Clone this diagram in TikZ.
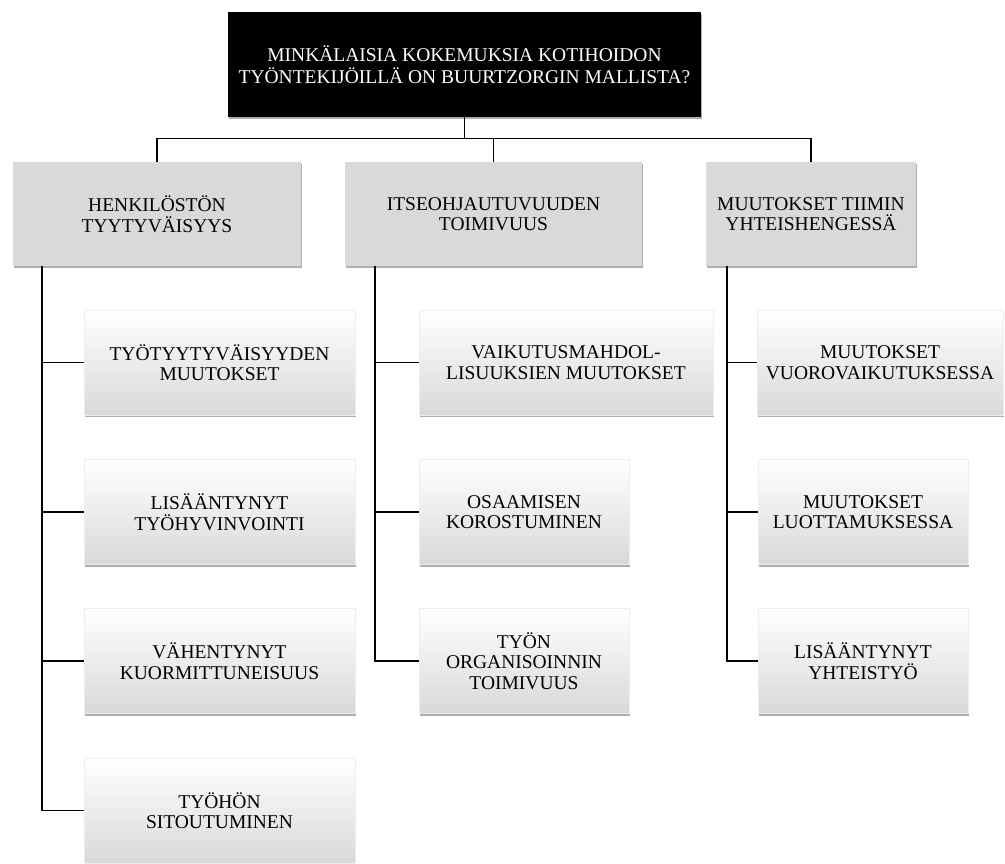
\documentclass[tikz,border=0pt]{standalone}
\usepackage{fontspec}
\setmainfont{Liberation Serif}
\usetikzlibrary{shadows}
\tikzset{
  base/.style={inner sep=0pt, align=center, font=\fontsize{19.5}{20.5}\selectfont,
    drop shadow={shadow xshift=0.6pt, shadow yshift=-2.4pt, opacity=0.45, fill=black!70}},
  topbox/.style={base, fill=black, text=white, minimum width=473pt, minimum height=105pt,
    font=\fontsize{19.5}{22}\selectfont},
  catbox/.style={base, fill=black!15, minimum height=104pt},
  leafbox/.style={base, draw=black!7, line width=0.4pt, top color=white, bottom color=black!15, minimum height=105pt},
  link/.style={draw=black, line width=1.4pt}
}
\begin{document}
\begin{tikzpicture}[x=1pt,y=1pt]
\useasboundingbox (0,0) rectangle (1005,-863);
% top
\node[topbox] (top) at (464.5,-64.5) {MINKÄLAISIA KOKEMUKSIA KOTIHOIDON\\TYÖNTEKIJÖILLÄ ON BUURTZORGIN MALLISTA?};
% level 1
\node[catbox, minimum width=288pt] (l1) at (157,-214) {HENKILÖSTÖN\\TYYTYVÄISYYS};
\node[catbox, minimum width=297pt] (l2) at (493.5,-214) {ITSEOHJAUTUVUUDEN\\TOIMIVUUS};
\node[catbox, minimum width=210pt] (l3) at (811,-214) {MUUTOKSET TIIMIN\\YHTEISHENGESSÄ};
% column 1
\node[leafbox, minimum width=271pt] (a1) at (219.5,-362.5) {TYÖTYYTYVÄISYYDEN\\MUUTOKSET};
\node[leafbox, minimum width=271pt] (a2) at (219.5,-512) {LISÄÄNTYNYT\\TYÖHYVINVOINTI};
\node[leafbox, minimum width=271pt] (a3) at (219.5,-661) {VÄHENTYNYT\\KUORMITTUNEISUUS};
\node[leafbox, minimum width=271pt] (a4) at (219.5,-810.5) {TYÖHÖN\\SITOUTUMINEN};
% column 2
\node[leafbox, minimum width=294pt] (b1) at (566,-362.5) {VAIKUTUSMAHDOL-\\LISUUKSIEN MUUTOKSET};
\node[leafbox, minimum width=210pt] (b2) at (524,-512) {OSAAMISEN\\KOROSTUMINEN};
\node[leafbox, minimum width=210pt] (b3) at (524,-661) {TYÖN\\ORGANISOINNIN\\TOIMIVUUS};
% column 3
\node[leafbox, minimum width=246pt] (c1) at (880,-362.5) {MUUTOKSET\\VUOROVAIKUTUKSESSA};
\node[leafbox, minimum width=210pt] (c2) at (863,-512) {MUUTOKSET\\LUOTTAMUKSESSA};
\node[leafbox, minimum width=210pt] (c3) at (863,-661) {LISÄÄNTYNYT\\YHTEISTYÖ};
% connectors top
\path (top.south) ++(0,-21) coordinate (bar);
\draw[link] (top.south) -- (bar);
\draw[link] (bar) -| (l1.north);
\draw[link] (bar) -| (l2.north);
\draw[link] (bar) -| (l3.north);
% column spines
\path (l1.south) ++(-115,0) coordinate (v1);
\path (l2.south) ++(-118.5,0) coordinate (v2);
\path (l3.south) ++(-84,0) coordinate (v3);
\draw[link] (v1) |- (a1.west);
\draw[link] (v1) |- (a2.west);
\draw[link] (v1) |- (a3.west);
\draw[link] (v1) |- (a4.west);
\draw[link] (v2) |- (b1.west);
\draw[link] (v2) |- (b2.west);
\draw[link] (v2) |- (b3.west);
\draw[link] (v3) |- (c1.west);
\draw[link] (v3) |- (c2.west);
\draw[link] (v3) |- (c3.west);
\end{tikzpicture}
\end{document}
